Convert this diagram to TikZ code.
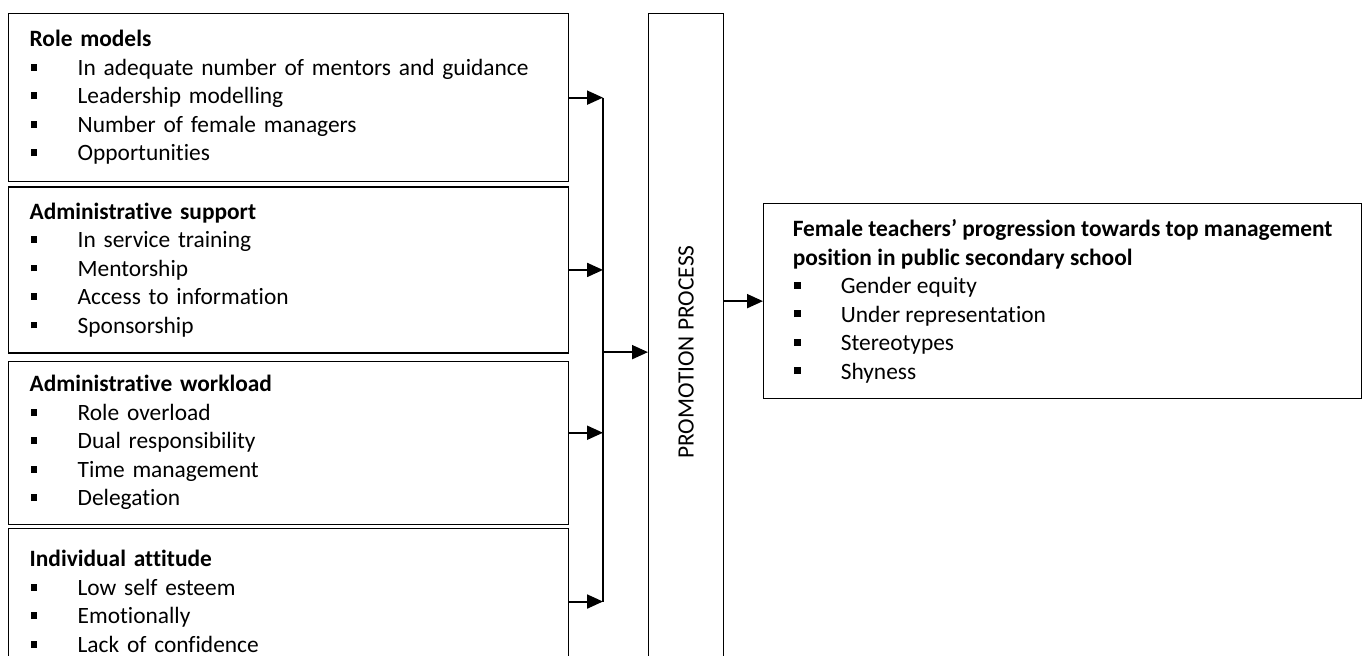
\documentclass[tikz,border=0pt]{standalone}
\usepackage{fontspec}
\setmainfont[Ligatures=NoCommon]{Carlito}
\usetikzlibrary{arrows.meta, positioning}
\newcommand{\bul}{\makebox[24pt][l]{\hspace{0.5pt}\raisebox{2.4pt}{\rule{3.4pt}{3.4pt}}}}

\begin{document}
\begin{tikzpicture}[
x=0.5pt, y=-0.5pt,
node distance=2pt,
box/.style={draw,
rectangle,
line width=0.65pt,
font=\fontsize{11.7pt}{14.25pt}\selectfont,
inner xsep=10.5pt,
inner ysep=0pt,
align=left},
factor/.style={box,
minimum width=280pt,
text width=259pt},
arrow/.style={-{Triangle[length=8pt, width=7pt]}, line width=1pt}
]
\useasboundingbox (0,0) rectangle (1367,656);

\node[factor, minimum height=84pt, anchor=north west] (roles) at (8,13) {\textbf{Role models}\\ \bul In adequate number of mentors and guidance\\ \bul Leadership modelling\\ \bul Number of female managers\\ \bul Opportunities};
\node[factor, minimum height=83pt, below=2pt of roles] (support) {\textbf{Administrative support}\\ \bul In service training\\ \bul Mentorship\\ \bul Access to information\\ \bul Sponsorship};
\node[factor, minimum height=81.5pt, below=3.5pt of support] (workload) {\textbf{Administrative workload}\\ \bul Role overload\\ \bul Dual responsibility\\ \bul Time management\\ \bul Delegation};
\node[factor, minimum height=73pt, below=1.5pt of workload] (attitude) {\textbf{Individual attitude}\\ \bul Low self esteem\\ \bul Emotionally\\ \bul Lack of confidence};

\node[box, minimum width=37.5pt, minimum height=338.5pt, inner xsep=0pt, anchor=north west] (promo) at (648,13) {\rotatebox{90}{PROMOTION PROCESS}};

\node[box, minimum width=299pt, minimum height=97.5pt, anchor=north west] (result) at (763,203) {\textbf{Female teachers’ progression towards top management}\\ \textbf{position in public secondary school}\\ \bul Gender equity\\ \bul Under representation\\ \bul Stereotypes\\ \bul Shyness};

\coordinate (bus) at (603,0);

\draw[line width=0.65pt] (roles.east -| bus) -- (attitude.east -| bus);
\draw[arrow] (roles.east) -- (roles.east -| bus);
\draw[arrow] (support.east) -- (support.east -| bus);
\draw[arrow] ([yshift=5pt]workload.east) -- ([yshift=5pt]workload.east -| bus);
\draw[arrow] (attitude.east) -- (attitude.east -| bus);
\draw[arrow] (promo.west -| bus) -- (promo.west);
\draw[arrow] (promo.east |- result.west) -- (result.west);

\end{tikzpicture}
\end{document}
